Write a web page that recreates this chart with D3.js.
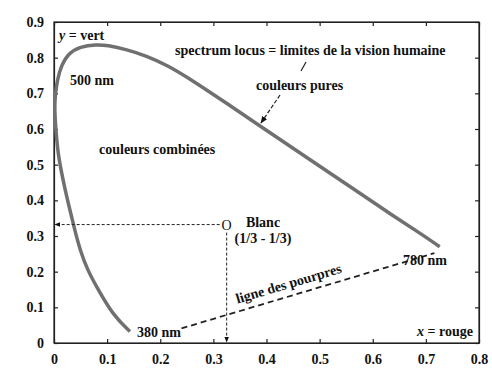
<!DOCTYPE html>
<html>
<head>
<meta charset="utf-8">
<script src="https://cdn.jsdelivr.net/npm/d3@7"></script>
<style>
  body { margin: 0; background: #fff; }
  #chart { width: 492px; height: 378px; }
  text { font-family: "Liberation Serif", "DejaVu Serif", serif; fill: #111; }
  .tick text { font-size: 14px; font-weight: bold; }
  .note { font-size: 14px; font-weight: bold; }
</style>
</head>
<body>
<div id="chart"></div>
<script>
// spectrum locus (x, y chromaticity)
const locusX = [0.143, 0.111, 0.080, 0.063, 0.049, 0.039, 0.030, 0.021, 0.008, 0.004, 0.001, 0.002, 0.006, 0.014, 0.027, 0.049, 0.080, 0.100, 0.137, 0.174, 0.212, 0.262, 0.325, 0.387, 0.450, 0.563, 0.644, 0.688, 0.726];
const locusY = [0.032, 0.078, 0.158, 0.205, 0.261, 0.317, 0.373, 0.429, 0.522, 0.589, 0.653, 0.691, 0.737, 0.779, 0.812, 0.831, 0.837, 0.835, 0.823, 0.805, 0.780, 0.735, 0.672, 0.609, 0.546, 0.433, 0.351, 0.309, 0.270];
// purple line (dashed)
const purpleX = [0.240, 0.716];
const purpleY = [0.041, 0.252];
// white point
const whitePoint = [0.325, 0.332];
const xTicks = [0, 0.1, 0.2, 0.3, 0.4, 0.5, 0.6, 0.7, 0.8];
const yTicks = [0, 0.1, 0.2, 0.3, 0.4, 0.5, 0.6, 0.7, 0.8, 0.9];

const width = 492, height = 378;
const margin = { top: 22, left: 54, right: 13, bottom: 35 };

const svg = d3.select("#chart").append("svg")
    .attr("width", width)
    .attr("height", height);

const x = d3.scaleLinear().domain([0, 0.8]).range([margin.left, width - margin.right]);
const y = d3.scaleLinear().domain([0, 0.9]).range([height - margin.bottom, margin.top]);

// arrow head
svg.append("defs").append("marker")
    .attr("id", "arrow")
    .attr("viewBox", "0 0 10 10")
    .attr("refX", 9).attr("refY", 5)
    .attr("markerWidth", 6).attr("markerHeight", 6)
    .attr("orient", "auto-start-reverse")
  .append("path")
    .attr("d", "M0,1 L10,5 L0,9 z")
    .attr("fill", "#111");

// axes, ticks inward on all sides
const fmt = d => d === 0 ? "0" : d3.format(".1f")(d);
svg.append("g")
    .attr("class", "axis")
    .attr("transform", `translate(0,${y(0)})`)
    .call(d3.axisBottom(x).tickValues(xTicks).tickFormat(fmt).tickSizeInner(-4).tickSizeOuter(0).tickPadding(11));
svg.append("g")
    .attr("class", "axis")
    .attr("transform", `translate(${x(0)},0)`)
    .call(d3.axisLeft(y).tickValues(yTicks).tickFormat(fmt).tickSizeInner(-4).tickSizeOuter(0).tickPadding(10));
svg.append("g")
    .attr("transform", `translate(0,${y(0.9)})`)
    .call(d3.axisTop(x).tickValues(xTicks).tickFormat("").tickSizeInner(-4).tickSizeOuter(0));
svg.append("g")
    .attr("transform", `translate(${x(0.8)},0)`)
    .call(d3.axisRight(y).tickValues(yTicks).tickFormat("").tickSizeInner(-4).tickSizeOuter(0));
svg.selectAll(".domain, .tick line").attr("stroke", "#222").attr("stroke-width", 1.2);
svg.selectAll(".tick text").attr("fill", "#111");

// frame
svg.append("rect")
    .attr("x", x(0)).attr("y", y(0.9))
    .attr("width", x(0.8) - x(0)).attr("height", y(0) - y(0.9))
    .attr("fill", "none").attr("stroke", "#222").attr("stroke-width", 1.2);

// spectrum locus
const locus = locusX.map((d, i) => [d, locusY[i]]);
svg.append("path")
    .datum(locus)
    .attr("d", d3.line().x(d => x(d[0])).y(d => y(d[1])).curve(d3.curveBasis))
    .attr("fill", "none")
    .attr("stroke", "#707070")
    .attr("stroke-width", 3.5);

// purple line
svg.append("line")
    .attr("x1", x(purpleX[0])).attr("y1", y(purpleY[0]))
    .attr("x2", x(purpleX[1])).attr("y2", y(purpleY[1]))
    .attr("stroke", "#222").attr("stroke-width", 1.8)
    .attr("stroke-dasharray", "6,4");

// white point guides
svg.append("line")
    .attr("x1", x(whitePoint[0]) - 7).attr("y1", y(whitePoint[1]))
    .attr("x2", x(0) + 1).attr("y2", y(whitePoint[1]))
    .attr("stroke", "#222").attr("stroke-width", 1)
    .attr("stroke-dasharray", "3,2")
    .attr("marker-end", "url(#arrow)");
svg.append("line")
    .attr("x1", x(whitePoint[0])).attr("y1", y(whitePoint[1]) + 8)
    .attr("x2", x(whitePoint[0])).attr("y2", y(0) - 1)
    .attr("stroke", "#222").attr("stroke-width", 1)
    .attr("stroke-dasharray", "3,2")
    .attr("marker-end", "url(#arrow)");
svg.append("text")
    .attr("x", x(whitePoint[0])).attr("y", y(whitePoint[1]) + 5)
    .attr("text-anchor", "middle")
    .style("font-size", "14px")
    .text("O");

// pointer lines
svg.append("line")
    .attr("x1", 280).attr("y1", 95).attr("x2", 261).attr("y2", 123)
    .attr("stroke", "#222").attr("stroke-width", 1.2)
    .attr("stroke-dasharray", "4,2")
    .attr("marker-end", "url(#arrow)");
svg.append("line")
    .attr("x1", 306).attr("y1", 62).attr("x2", 301).attr("y2", 71)
    .attr("stroke", "#222").attr("stroke-width", 1.2);

// annotations
const note = (tx, ty, s, anchor) => svg.append("text")
    .attr("class", "note")
    .attr("x", tx).attr("y", ty)
    .attr("text-anchor", anchor || "start")
    .text(s);

const yv = svg.append("text").attr("class", "note").attr("x", 59).attr("y", 40);
yv.append("tspan").style("font-style", "italic").text("y");
yv.append("tspan").text(" = vert");
note(70, 85, "500 nm");
note(175, 55, "spectrum locus = limites de la vision humaine");
note(256, 90, "couleurs pures");
note(99, 154, "couleurs combinées");
note(263, 227, "Blanc", "middle");
note(263, 243, "(1/3 - 1/3)", "middle");
note(137, 337, "380 nm");
note(403, 265, "780 nm");
const xr = svg.append("text").attr("class", "note").attr("x", 473).attr("y", 336).attr("text-anchor", "end");
xr.append("tspan").style("font-style", "italic").text("x");
xr.append("tspan").text(" = rouge");
svg.append("text")
    .attr("class", "note")
    .attr("transform", "translate(290,288) rotate(-16.5)")
    .attr("text-anchor", "middle")
    .text("ligne des pourpres");
</script>
</body>
</html>
